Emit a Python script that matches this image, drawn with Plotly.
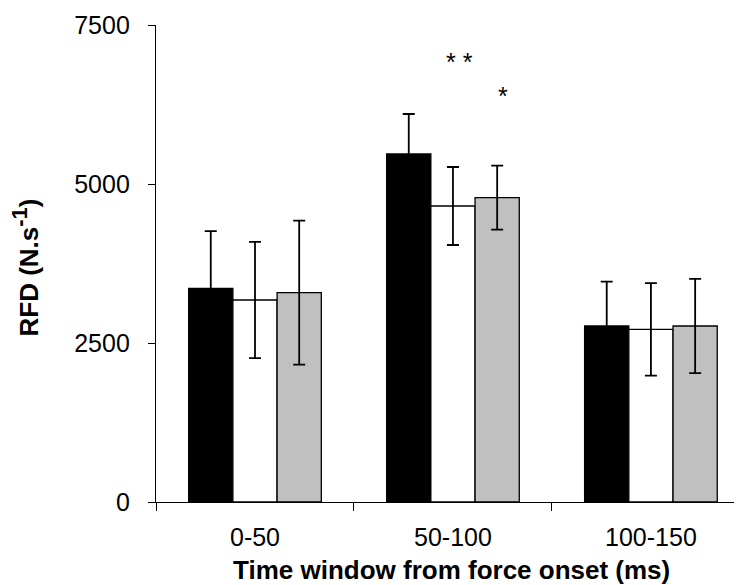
import plotly.graph_objects as go

categories = ["0-50", "50-100", "100-150"]
black_vals = [3360, 5472, 2767]
black_err = [900, 629, 697]
white_vals = [3176, 4654, 2715]
white_err = [915, 613, 728]
gray_vals = [3291, 4785, 2767]
gray_err = [1132, 503, 741]
y_ticks = [0, 2500, 5000, 7500]
sig_labels = ["* *", "*"]
sig_x = [1.035, 1.255]
sig_y = [6920, 6390]

FONT = "Liberation Sans, Arial, sans-serif"

fig = go.Figure()
for name, vals, err, color in [
    ("Black", black_vals, black_err, "black"),
    ("White", white_vals, white_err, "white"),
    ("Gray", gray_vals, gray_err, "#C0C0C0"),
]:
    fig.add_trace(go.Bar(
        x=categories, y=vals, name=name,
        marker=dict(color=color, line=dict(color="black", width=1.3)),
        error_y=dict(type="data", array=err, visible=True, color="black",
                     thickness=1.8, width=6),
    ))

for t, xv, yv in zip(sig_labels, sig_x, sig_y):
    fig.add_annotation(x=xv, y=yv, xref="x", yref="y", text=t, showarrow=False,
                       font=dict(family=FONT, size=25, color="black"),
                       xanchor="center", yanchor="middle")

# axis titles
fig.add_annotation(x=0.505, y=0, xref="paper", yref="paper",
                   text="<b>Time window from force onset (ms)</b>", showarrow=False,
                   font=dict(family=FONT, size=26, color="black"),
                   xanchor="center", yanchor="middle", yshift=-68)
fig.add_annotation(x=0, y=0.5, xref="paper", yref="paper",
                   text="<b>RFD (N.s<sup><span style='font-size:22px'>-1</span></sup>)</b>",
                   showarrow=False, textangle=-90,
                   font=dict(family=FONT, size=26, color="black"),
                   xanchor="center", yanchor="middle", xshift=-130, yshift=-4)

# the page body has an 8px margin, so the figure is 8px smaller and shifted
fig.update_layout(
    width=734, height=577,
    margin=dict(l=148, r=0, t=17, b=83),
    paper_bgcolor="white", plot_bgcolor="white",
    barmode="group", bargap=0.33, bargroupgap=0,
    showlegend=False,
    font=dict(family=FONT, size=25, color="black"),
    xaxis=dict(range=[-0.5, 2.46], showline=True, linecolor="black", linewidth=1.3,
               ticks="outside", tickson="boundaries", ticklen=8, tickwidth=1.3,
               tickcolor="black", showgrid=False, zeroline=False,
               tickfont=dict(family=FONT, size=25, color="black"),
               ticklabelstandoff=13),
    yaxis=dict(range=[0, 7500], tickvals=y_ticks, showline=True, linecolor="black",
               linewidth=1.3, ticks="outside", ticklen=7, tickwidth=1.3,
               tickcolor="black", showgrid=False, zeroline=False,
               tickfont=dict(family=FONT, size=25, color="black"),
               ticklabelstandoff=13),
)

fig.write_html("out.html")
